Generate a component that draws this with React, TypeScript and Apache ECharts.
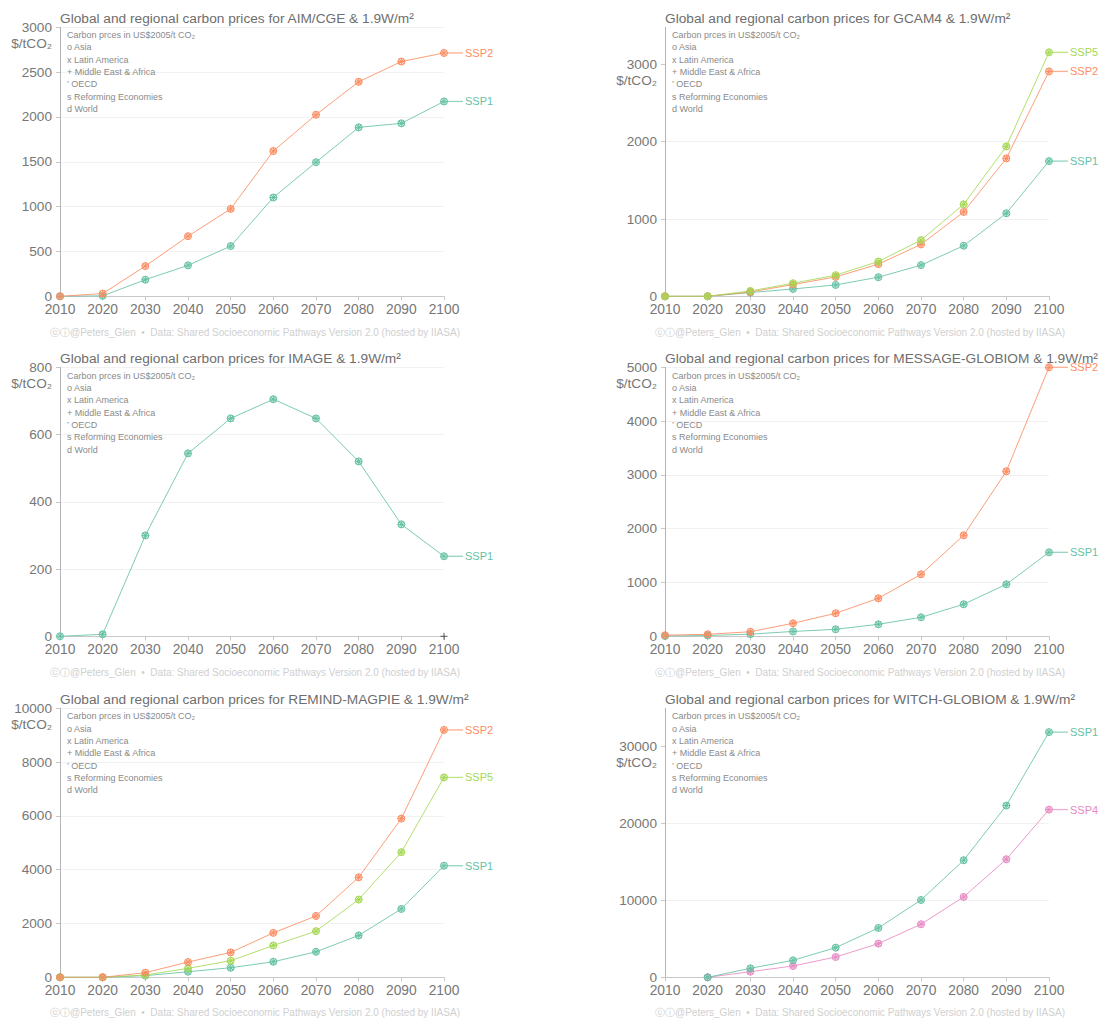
import React, { useEffect, useRef } from "react";
import * as echarts from "echarts";

// ---------- data ----------
const years = [2010, 2020, 2030, 2040, 2050, 2060, 2070, 2080, 2090, 2100];

const modelNames = ["AIM/CGE", "GCAM4", "IMAGE", "MESSAGE-GLOBIOM", "REMIND-MAGPIE", "WITCH-GLOBIOM"];

const aimSSP1 = [0, 5, 185, 345, 560, 1102, 1495, 1884, 1929, 2173];
const aimSSP2 = [0, 30, 337, 670, 975, 1620, 2025, 2392, 2618, 2714];

const gcamSSP1 = [0, 0, 48, 95, 147, 247, 403, 654, 1074, 1749];
const gcamSSP2 = [0, 0, 56, 152, 251, 416, 671, 1091, 1784, 2909];
const gcamSSP5 = [0, 0, 69, 169, 273, 450, 727, 1190, 1939, 3156];

const imageSSP1 = [0, 6, 300, 544, 648, 705, 648, 520, 333, 238];
const imageMarker = [[2100, 0]];

const messageSSP1 = [5, 15, 40, 90, 130, 223, 353, 595, 967, 1561];
const messageSSP2 = [20, 37, 85, 242, 428, 706, 1152, 1877, 3067, 5000];

const remindSSP1 = [0, 0, 60, 207, 356, 578, 948, 1556, 2541, 4148];
const remindSSP2 = [0, 0, 173, 567, 926, 1652, 2281, 3715, 5900, 9196];
const remindSSP5 = [0, 0, 85, 333, 615, 1185, 1715, 2889, 4652, 7430];

const witchSSP1 = [null, 0, 1170, 2210, 3860, 6420, 10060, 15230, 22350, 31900];
const witchSSP4 = [null, 0, 730, 1470, 2640, 4380, 6900, 10460, 15360, 21820];

const yMaxes = [3000, 3480, 800, 5000, 10000, 35000];
const yIntervals = [500, 1000, 200, 1000, 2000, 10000];

const legendLines = [
  "Carbon prces in US$2005/t CO\u2082",
  "o Asia",
  "x Latin America",
  "+ Middle East & Africa",
  "\u2019 OECD",
  "s Reforming Economies",
  "d World",
];
const footerText = "\u24D2\u24D8@Peters_Glen  \u2022  Data: Shared Socioeconomic Pathways Version 2.0 (hosted by IIASA)";
const unitText = "$/tCO\u2082";

// ---------- styles ----------
const COLORS: Record<string, string> = {
  SSP1: "#66c2a5",
  SSP2: "#fc8d62",
  SSP4: "#e78ac3",
  SSP5: "#a6d854",
};
const FONT = "'Liberation Sans', Arial, Helvetica, sans-serif";
const colLeft = [60, 665];
const rowTop = [27.3, 367.3, 708.3];
const gridW = 384;
const gridH = 269;
const titleY = [18, 358.5, 699.3];
const footerY = [332, 672, 1012];

const SYMBOL =
  "path://M5,0A5,5 0 1,1 5,10A5,5 0 1,1 5,0Z M1.6,1.6L8.4,8.4M8.4,1.6L1.6,8.4M5,0L5,10M0,5L10,5";
const PLUS = "path://M0,5L10,5M5,0L5,10";

type S = { name: string; values: (number | null)[] };
const panelSeries: S[][] = [
  [
    { name: "SSP1", values: aimSSP1 },
    { name: "SSP2", values: aimSSP2 },
  ],
  [
    { name: "SSP1", values: gcamSSP1 },
    { name: "SSP2", values: gcamSSP2 },
    { name: "SSP5", values: gcamSSP5 },
  ],
  [{ name: "SSP1", values: imageSSP1 }],
  [
    { name: "SSP1", values: messageSSP1 },
    { name: "SSP2", values: messageSSP2 },
  ],
  [
    { name: "SSP1", values: remindSSP1 },
    { name: "SSP5", values: remindSSP5 },
    { name: "SSP2", values: remindSSP2 },
  ],
  [
    { name: "SSP4", values: witchSSP4 },
    { name: "SSP1", values: witchSSP1 },
  ],
];

function hexA(hex: string, a: number) {
  const n = parseInt(hex.slice(1), 16);
  return `rgba(${(n >> 16) & 255},${(n >> 8) & 255},${n & 255},${a})`;
}

function tickValues(max: number, step: number) {
  const out: number[] = [];
  for (let v = 0; v <= max + 1e-9; v += step) out.push(v);
  return out;
}

function buildOption() {
  const grid: any[] = [];
  const xAxis: any[] = [];
  const yAxis: any[] = [];
  const series: any[] = [];
  for (let i = 0; i < 6; i++) {
    const c = i % 2;
    const r = Math.floor(i / 2);
    grid.push({ left: colLeft[c], top: rowTop[r], width: gridW, height: gridH, containLabel: false });
    xAxis.push({
      type: "value",
      gridIndex: i,
      min: 2010,
      max: 2100,
      interval: 10,
      axisLine: { show: true, lineStyle: { color: "#c8c8c8", width: 1 } },
      axisTick: { show: true, length: 4, lineStyle: { color: "#c8c8c8" } },
      axisLabel: { color: "#777", fontSize: 13.8, fontFamily: FONT, margin: 6, formatter: (v: number) => String(v) },
      splitLine: { show: false },
    });
    const ticks = tickValues(yMaxes[i], yIntervals[i]);
    const exact = yMaxes[i] % yIntervals[i] === 0;
    yAxis.push({
      type: "value",
      gridIndex: i,
      min: 0,
      max: yMaxes[i],
      interval: yIntervals[i],
      axisLine: { show: true, lineStyle: { color: "#b4b4b4", width: 1 } },
      axisTick: { show: true, length: 4, lineStyle: { color: "#c8c8c8" }, customValues: ticks },
      axisLabel: {
        color: "#777",
        fontSize: 13.6,
        fontFamily: FONT,
        margin: 8,
        showMaxLabel: true,
        showMinLabel: true,
        customValues: ticks,
        formatter: (v: number) => String(v),
      },
      splitLine: { show: true, showMinLine: false, showMaxLine: exact, lineStyle: { color: "#f1f1f1", width: 1 } },
    });
    panelSeries[i].forEach((s) => {
      const col = COLORS[s.name];
      const data = years
        .map((y, k) => [y, s.values[k]])
        .filter((p) => p[1] !== null && p[1] !== undefined);
      series.push({
        type: "line",
        name: s.name,
        xAxisIndex: i,
        yAxisIndex: i,
        data,
        symbol: SYMBOL,
        symbolSize: 7,
        showAllSymbol: true,
        lineStyle: { color: hexA(col, 0.85), width: 1 },
        itemStyle: { color: hexA(col, 0.28), borderColor: col, borderWidth: 1 },
        emphasis: { disabled: true },
        silent: true,
        z: 3,
      });
    });
    if (i === 2) {
      series.push({
        type: "scatter",
        name: "marker",
        xAxisIndex: i,
        yAxisIndex: i,
        data: imageMarker,
        symbol: PLUS,
        symbolSize: 7,
        itemStyle: { color: "none", borderColor: "#333", borderWidth: 1 },
        silent: true,
        z: 4,
      });
    }
  }
  return {
    animation: false,
    backgroundColor: "#fff",
    textStyle: { fontFamily: FONT },
    grid,
    xAxis,
    yAxis,
    series,
  };
}

function buildGraphic(chart: any) {
  const g: any[] = [];
  for (let i = 0; i < 6; i++) {
    const c = i % 2;
    const r = Math.floor(i / 2);
    const x0 = colLeft[c];
    // title
    g.push({
      type: "text",
      x: x0,
      y: titleY[r],
      silent: true,
      style: {
        text: `Global and regional carbon prices for ${modelNames[i]} & 1.9W/m\u00B2`,
        fill: "#6e6e6e",
        fontSize: 13.7,
        fontFamily: FONT,
        textAlign: "left",
        textVerticalAlign: "middle",
      },
      z: 10,
    });
    // legend-ish text block
    legendLines.forEach((t, k) => {
      g.push({
        type: "text",
        x: x0 + 7,
        y: titleY[r] + 17 + k * 12.35,
        silent: true,
        style: {
          text: t,
          fill: "#8a8a8a",
          fontSize: 9,
          fontFamily: FONT,
          textAlign: "left",
          textVerticalAlign: "middle",
        },
        z: 10,
      });
    });
    // footer
    g.push({
      type: "text",
      x: x0 - 10,
      y: footerY[r],
      silent: true,
      style: {
        text: footerText,
        fill: "#cfcfcf",
        fontSize: 10,
        fontFamily: FONT,
        textAlign: "left",
        textVerticalAlign: "middle",
      },
    });
    // unit label below the top labelled tick
    const ticks = tickValues(yMaxes[i], yIntervals[i]);
    const topTick = ticks[ticks.length - 1];
    const pTop = chart.convertToPixel({ gridIndex: i }, [2010, topTick]);
    g.push({
      type: "text",
      x: x0 - 8,
      y: pTop[1] + 16,
      silent: true,
      style: {
        text: unitText,
        fill: "#777",
        fontSize: 13.6,
        fontFamily: FONT,
        textAlign: "right",
        textVerticalAlign: "middle",
      },
    });
    // end connectors + labels
    panelSeries[i].forEach((s) => {
      const col = COLORS[s.name];
      const last = s.values[s.values.length - 1] as number;
      const p = chart.convertToPixel({ gridIndex: i }, [2100, last]);
      g.push({
        type: "line",
        silent: true,
        shape: { x1: p[0] + 3, y1: p[1], x2: p[0] + 19, y2: p[1] },
        style: { stroke: hexA(col, 0.7), lineWidth: 1.3 },
        z: 5,
      });
      g.push({
        type: "text",
        x: p[0] + 21,
        y: p[1],
        silent: true,
        style: {
          text: s.name,
          fill: col,
          fontSize: 11,
          fontFamily: FONT,
          textAlign: "left",
          textVerticalAlign: "middle",
        },
        z: 5,
      });
    });
  }
  return g;
}

export default function App() {
  const ref = useRef<HTMLDivElement>(null);
  useEffect(() => {
    if (!ref.current) return;
    const chart = echarts.init(ref.current, null, { renderer: "svg" });
    chart.setOption(buildOption() as any);
    chart.setOption({ graphic: buildGraphic(chart) } as any);
    return () => {
      chart.dispose();
    };
  }, []);
  return (
    <div
      ref={ref}
      style={{ position: "absolute", left: 0, top: 0, width: 1101, height: 1021, background: "#fff" }}
    />
  );
}
